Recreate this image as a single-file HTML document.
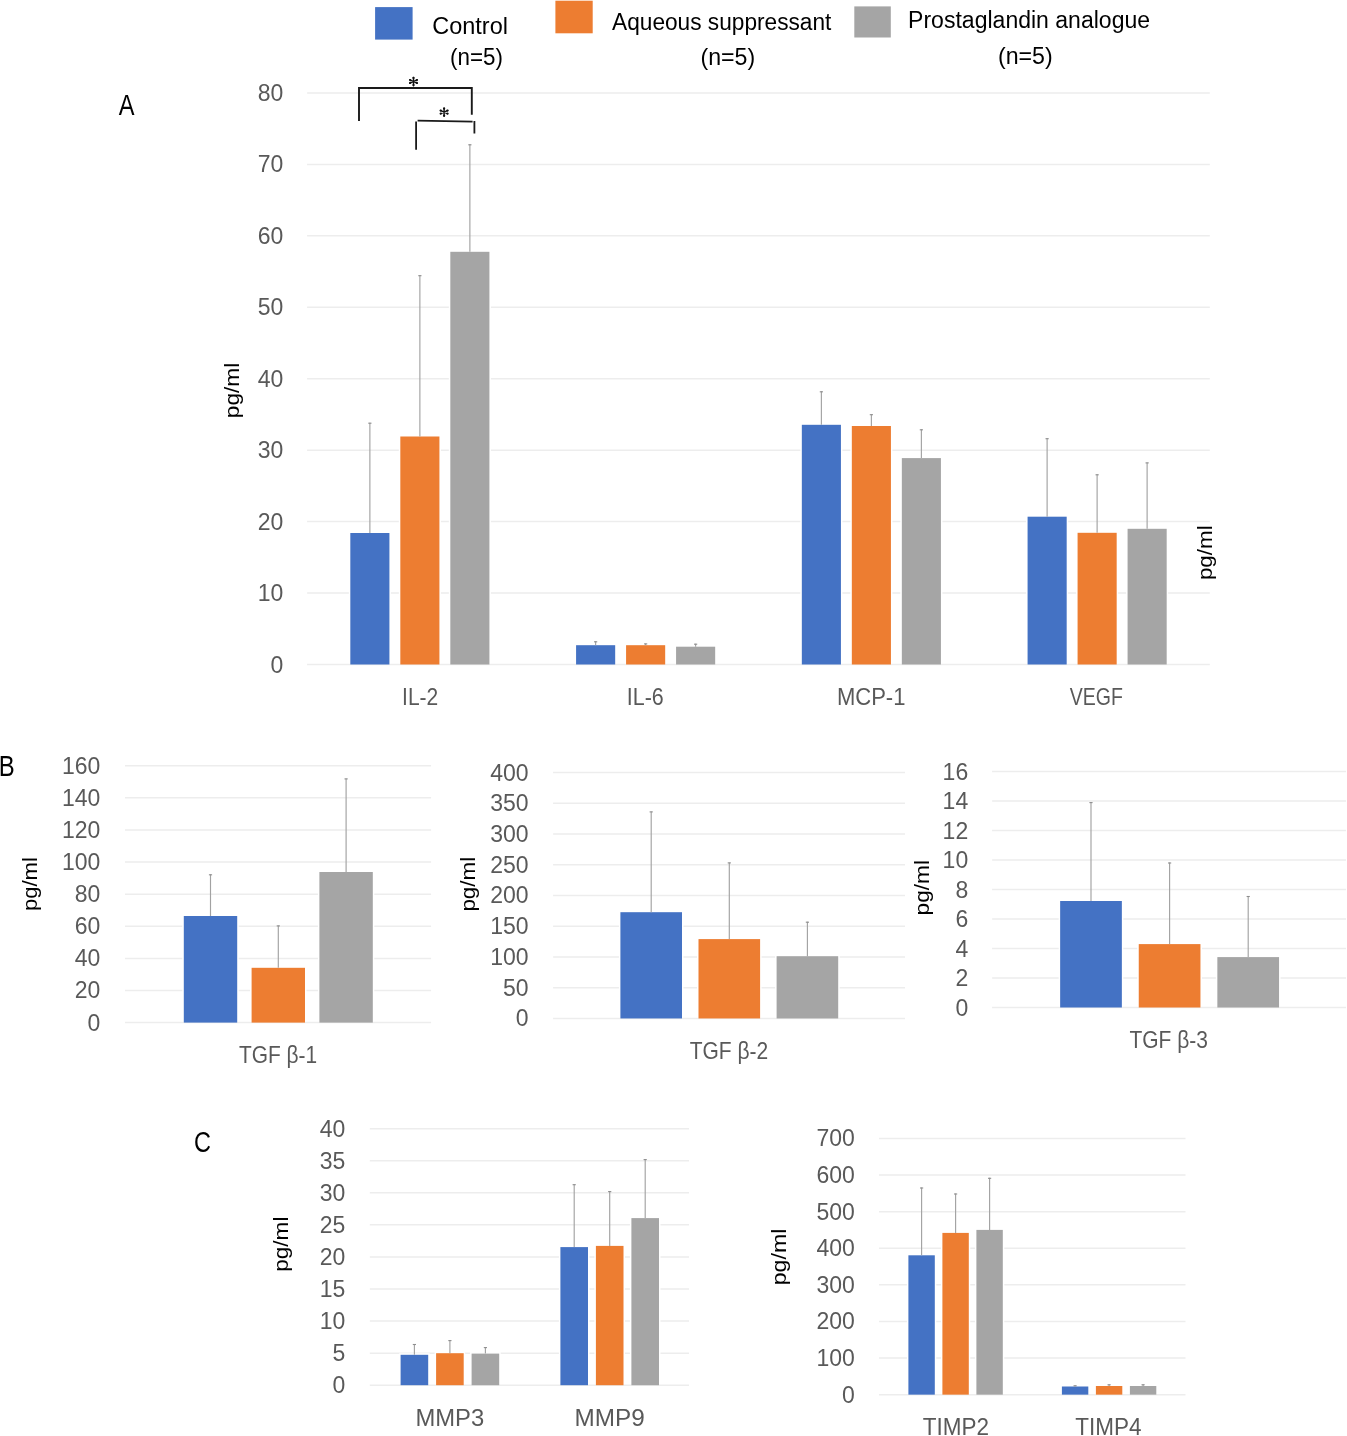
<!DOCTYPE html>
<html><head><meta charset="utf-8"><style>
html,body{margin:0;padding:0;background:#fff;}
body{width:1347px;height:1436px;overflow:hidden;}
svg{display:block;font-family:"Liberation Sans", sans-serif;will-change:transform;}
</style></head><body>
<svg width="1347" height="1436" viewBox="0 0 1347 1436">
<rect x="0" y="0" width="1347" height="1436" fill="#fff"/>
<line x1="307.1" y1="664.5" x2="1209.8" y2="664.5" stroke="#EDEDED" stroke-width="1.5"/>
<line x1="307.1" y1="593.06" x2="1209.8" y2="593.06" stroke="#EDEDED" stroke-width="1.5"/>
<line x1="307.1" y1="521.62" x2="1209.8" y2="521.62" stroke="#EDEDED" stroke-width="1.5"/>
<line x1="307.1" y1="450.18" x2="1209.8" y2="450.18" stroke="#EDEDED" stroke-width="1.5"/>
<line x1="307.1" y1="378.74" x2="1209.8" y2="378.74" stroke="#EDEDED" stroke-width="1.5"/>
<line x1="307.1" y1="307.3" x2="1209.8" y2="307.3" stroke="#EDEDED" stroke-width="1.5"/>
<line x1="307.1" y1="235.86" x2="1209.8" y2="235.86" stroke="#EDEDED" stroke-width="1.5"/>
<line x1="307.1" y1="164.42" x2="1209.8" y2="164.42" stroke="#EDEDED" stroke-width="1.5"/>
<line x1="307.1" y1="92.98" x2="1209.8" y2="92.98" stroke="#EDEDED" stroke-width="1.5"/>
<text x="283.3" y="672.5" font-size="23" fill="#595959" text-anchor="end">0</text>
<text x="283.3" y="601.06" font-size="23" fill="#595959" text-anchor="end">10</text>
<text x="283.3" y="529.62" font-size="23" fill="#595959" text-anchor="end">20</text>
<text x="283.3" y="458.18" font-size="23" fill="#595959" text-anchor="end">30</text>
<text x="283.3" y="386.74" font-size="23" fill="#595959" text-anchor="end">40</text>
<text x="283.3" y="315.3" font-size="23" fill="#595959" text-anchor="end">50</text>
<text x="283.3" y="243.86" font-size="23" fill="#595959" text-anchor="end">60</text>
<text x="283.3" y="172.42" font-size="23" fill="#595959" text-anchor="end">70</text>
<text x="283.3" y="100.98" font-size="23" fill="#595959" text-anchor="end">80</text>
<rect x="348.82" y="531.5" width="42.1" height="131.8" fill="#FFFFFF"/>
<rect x="398.82" y="435" width="42.1" height="228.3" fill="#FFFFFF"/>
<rect x="448.82" y="250.3" width="42.1" height="413" fill="#FFFFFF"/>
<rect x="574.58" y="643.7" width="42.1" height="19.6" fill="#FFFFFF"/>
<rect x="624.58" y="643.7" width="42.1" height="19.6" fill="#FFFFFF"/>
<rect x="674.58" y="645.2" width="42.1" height="18.1" fill="#FFFFFF"/>
<rect x="800.33" y="423.3" width="42.1" height="240" fill="#FFFFFF"/>
<rect x="850.33" y="424.5" width="42.1" height="238.8" fill="#FFFFFF"/>
<rect x="900.33" y="456.6" width="42.1" height="206.7" fill="#FFFFFF"/>
<rect x="1026.08" y="515.2" width="42.1" height="148.1" fill="#FFFFFF"/>
<rect x="1076.08" y="531.3" width="42.1" height="132" fill="#FFFFFF"/>
<rect x="1126.08" y="527.3" width="42.1" height="136" fill="#FFFFFF"/>
<rect x="350.32" y="533" width="39.1" height="131.5" fill="#4472C4"/>
<rect x="400.32" y="436.5" width="39.1" height="228" fill="#ED7D31"/>
<rect x="450.32" y="251.8" width="39.1" height="412.7" fill="#A5A5A5"/>
<rect x="576.08" y="645.2" width="39.1" height="19.3" fill="#4472C4"/>
<rect x="626.08" y="645.2" width="39.1" height="19.3" fill="#ED7D31"/>
<rect x="676.08" y="646.7" width="39.1" height="17.8" fill="#A5A5A5"/>
<rect x="801.83" y="424.8" width="39.1" height="239.7" fill="#4472C4"/>
<rect x="851.83" y="426" width="39.1" height="238.5" fill="#ED7D31"/>
<rect x="901.83" y="458.1" width="39.1" height="206.4" fill="#A5A5A5"/>
<rect x="1027.58" y="516.7" width="39.1" height="147.8" fill="#4472C4"/>
<rect x="1077.58" y="532.8" width="39.1" height="131.7" fill="#ED7D31"/>
<rect x="1127.58" y="528.8" width="39.1" height="135.7" fill="#A5A5A5"/>
<line x1="369.88" y1="422.7" x2="369.88" y2="533" stroke="#A2A2A2" stroke-width="1.15"/>
<line x1="368.27" y1="423.2" x2="371.48" y2="423.2" stroke="#8E8E8E" stroke-width="1.1"/>
<line x1="419.88" y1="275.2" x2="419.88" y2="436.5" stroke="#A2A2A2" stroke-width="1.15"/>
<line x1="418.27" y1="275.7" x2="421.48" y2="275.7" stroke="#8E8E8E" stroke-width="1.1"/>
<line x1="469.88" y1="144.3" x2="469.88" y2="251.8" stroke="#A2A2A2" stroke-width="1.15"/>
<line x1="468.27" y1="144.8" x2="471.48" y2="144.8" stroke="#8E8E8E" stroke-width="1.1"/>
<line x1="595.62" y1="641.3" x2="595.62" y2="645.2" stroke="#A2A2A2" stroke-width="1.15"/>
<line x1="594.02" y1="641.8" x2="597.23" y2="641.8" stroke="#8E8E8E" stroke-width="1.1"/>
<line x1="645.62" y1="643.4" x2="645.62" y2="645.2" stroke="#A2A2A2" stroke-width="1.15"/>
<line x1="644.02" y1="643.9" x2="647.23" y2="643.9" stroke="#8E8E8E" stroke-width="1.1"/>
<line x1="695.62" y1="643.7" x2="695.62" y2="646.7" stroke="#A2A2A2" stroke-width="1.15"/>
<line x1="694.02" y1="644.2" x2="697.23" y2="644.2" stroke="#8E8E8E" stroke-width="1.1"/>
<line x1="821.38" y1="391.3" x2="821.38" y2="424.8" stroke="#A2A2A2" stroke-width="1.15"/>
<line x1="819.77" y1="391.8" x2="822.98" y2="391.8" stroke="#8E8E8E" stroke-width="1.1"/>
<line x1="871.38" y1="414.2" x2="871.38" y2="426" stroke="#A2A2A2" stroke-width="1.15"/>
<line x1="869.77" y1="414.7" x2="872.98" y2="414.7" stroke="#8E8E8E" stroke-width="1.1"/>
<line x1="921.38" y1="429.3" x2="921.38" y2="458.1" stroke="#A2A2A2" stroke-width="1.15"/>
<line x1="919.77" y1="429.8" x2="922.98" y2="429.8" stroke="#8E8E8E" stroke-width="1.1"/>
<line x1="1047.12" y1="438.2" x2="1047.12" y2="516.7" stroke="#A2A2A2" stroke-width="1.15"/>
<line x1="1045.53" y1="438.7" x2="1048.72" y2="438.7" stroke="#8E8E8E" stroke-width="1.1"/>
<line x1="1097.12" y1="474.3" x2="1097.12" y2="532.8" stroke="#A2A2A2" stroke-width="1.15"/>
<line x1="1095.53" y1="474.8" x2="1098.72" y2="474.8" stroke="#8E8E8E" stroke-width="1.1"/>
<line x1="1147.12" y1="462.4" x2="1147.12" y2="528.8" stroke="#A2A2A2" stroke-width="1.15"/>
<line x1="1145.53" y1="462.9" x2="1148.72" y2="462.9" stroke="#8E8E8E" stroke-width="1.1"/>
<text x="420.18" y="705.2" font-size="23.2" fill="#595959" text-anchor="middle" textLength="36.17" lengthAdjust="spacingAndGlyphs">IL-2</text>
<text x="645.33" y="705.2" font-size="23.2" fill="#595959" text-anchor="middle" textLength="36.97" lengthAdjust="spacingAndGlyphs">IL-6</text>
<text x="871.17" y="705.2" font-size="23.2" fill="#595959" text-anchor="middle" textLength="68.56" lengthAdjust="spacingAndGlyphs">MCP-1</text>
<text x="1096.33" y="705.2" font-size="23.2" fill="#595959" text-anchor="middle" textLength="53.14" lengthAdjust="spacingAndGlyphs">VEGF</text>
<text transform="translate(238.5 390.5) rotate(-90)" x="0" y="0" font-size="20" fill="#000" text-anchor="middle" textLength="55.4" lengthAdjust="spacingAndGlyphs">pg/ml</text>
<text transform="translate(1211.5 552.7) rotate(-90)" x="0" y="0" font-size="20" fill="#000" text-anchor="middle" textLength="54.8" lengthAdjust="spacingAndGlyphs">pg/ml</text>
<text x="118.8" y="115.1" font-size="29" fill="#000" text-anchor="start" textLength="15.74" lengthAdjust="spacingAndGlyphs">A</text>
<path d="M359 121 L359 88 L471.8 88 L471.8 114.7" fill="none" stroke="#1A1A1A" stroke-width="1.9"/>
<path d="M416.1 149.8 L416.1 121.4 M417.6 120.6 L472.6 121.6 M474.4 120.9 L474.4 133.6" fill="none" stroke="#1A1A1A" stroke-width="1.8"/>
<path d="M413.5 77.35 L413.5 85.65 M409.71 79.81 L417.29 83.19 M417.29 79.81 L409.71 83.19" stroke="#111" stroke-width="1.45" stroke-linecap="round" fill="none"/><circle cx="413.5" cy="77.93" r="1.15" fill="#111"/><circle cx="413.5" cy="85.07" r="1.15" fill="#111"/><circle cx="410.24" cy="80.05" r="1.15" fill="#111"/><circle cx="416.76" cy="82.95" r="1.15" fill="#111"/><circle cx="416.76" cy="80.05" r="1.15" fill="#111"/><circle cx="410.24" cy="82.95" r="1.15" fill="#111"/>
<path d="M444.1 107.95 L444.1 116.25 M440.31 110.41 L447.89 113.79 M447.89 110.41 L440.31 113.79" stroke="#111" stroke-width="1.45" stroke-linecap="round" fill="none"/><circle cx="444.1" cy="108.53" r="1.15" fill="#111"/><circle cx="444.1" cy="115.67" r="1.15" fill="#111"/><circle cx="440.84" cy="110.65" r="1.15" fill="#111"/><circle cx="447.36" cy="113.55" r="1.15" fill="#111"/><circle cx="447.36" cy="110.65" r="1.15" fill="#111"/><circle cx="440.84" cy="113.55" r="1.15" fill="#111"/>
<line x1="125" y1="1022.6" x2="431.1" y2="1022.6" stroke="#EDEDED" stroke-width="1.5"/>
<line x1="125" y1="990.49" x2="431.1" y2="990.49" stroke="#EDEDED" stroke-width="1.5"/>
<line x1="125" y1="958.38" x2="431.1" y2="958.38" stroke="#EDEDED" stroke-width="1.5"/>
<line x1="125" y1="926.27" x2="431.1" y2="926.27" stroke="#EDEDED" stroke-width="1.5"/>
<line x1="125" y1="894.16" x2="431.1" y2="894.16" stroke="#EDEDED" stroke-width="1.5"/>
<line x1="125" y1="862.05" x2="431.1" y2="862.05" stroke="#EDEDED" stroke-width="1.5"/>
<line x1="125" y1="829.94" x2="431.1" y2="829.94" stroke="#EDEDED" stroke-width="1.5"/>
<line x1="125" y1="797.83" x2="431.1" y2="797.83" stroke="#EDEDED" stroke-width="1.5"/>
<line x1="125" y1="765.72" x2="431.1" y2="765.72" stroke="#EDEDED" stroke-width="1.5"/>
<text x="100.4" y="1030.6" font-size="23" fill="#595959" text-anchor="end">0</text>
<text x="100.4" y="998.49" font-size="23" fill="#595959" text-anchor="end">20</text>
<text x="100.4" y="966.38" font-size="23" fill="#595959" text-anchor="end">40</text>
<text x="100.4" y="934.27" font-size="23" fill="#595959" text-anchor="end">60</text>
<text x="100.4" y="902.16" font-size="23" fill="#595959" text-anchor="end">80</text>
<text x="100.4" y="870.05" font-size="23" fill="#595959" text-anchor="end">100</text>
<text x="100.4" y="837.94" font-size="23" fill="#595959" text-anchor="end">120</text>
<text x="100.4" y="805.83" font-size="23" fill="#595959" text-anchor="end">140</text>
<text x="100.4" y="773.72" font-size="23" fill="#595959" text-anchor="end">160</text>
<rect x="182.3" y="914.5" width="56.4" height="106.9" fill="#FFFFFF"/>
<rect x="250.1" y="966.3" width="56.4" height="55.1" fill="#FFFFFF"/>
<rect x="317.9" y="870.5" width="56.4" height="150.9" fill="#FFFFFF"/>
<rect x="183.8" y="916" width="53.4" height="106.6" fill="#4472C4"/>
<rect x="251.6" y="967.8" width="53.4" height="54.8" fill="#ED7D31"/>
<rect x="319.4" y="872" width="53.4" height="150.6" fill="#A5A5A5"/>
<line x1="210.5" y1="874.3" x2="210.5" y2="916" stroke="#A2A2A2" stroke-width="1.15"/>
<line x1="208.9" y1="874.8" x2="212.1" y2="874.8" stroke="#8E8E8E" stroke-width="1.1"/>
<line x1="278.3" y1="925.4" x2="278.3" y2="967.8" stroke="#A2A2A2" stroke-width="1.15"/>
<line x1="276.7" y1="925.9" x2="279.9" y2="925.9" stroke="#8E8E8E" stroke-width="1.1"/>
<line x1="346.1" y1="778.4" x2="346.1" y2="872" stroke="#A2A2A2" stroke-width="1.15"/>
<line x1="344.5" y1="778.9" x2="347.7" y2="778.9" stroke="#8E8E8E" stroke-width="1.1"/>
<text x="278.1" y="1063.1" font-size="23.2" fill="#595959" text-anchor="middle" textLength="78.17" lengthAdjust="spacingAndGlyphs">TGF β-1</text>
<text transform="translate(36.5 884.1) rotate(-90)" x="0" y="0" font-size="20" fill="#000" text-anchor="middle" textLength="54" lengthAdjust="spacingAndGlyphs">pg/ml</text>
<text x="-1.3" y="775.6" font-size="29" fill="#000" text-anchor="start" textLength="15.94" lengthAdjust="spacingAndGlyphs">B</text>
<line x1="553.1" y1="1018.45" x2="905" y2="1018.45" stroke="#EDEDED" stroke-width="1.5"/>
<line x1="553.1" y1="987.71" x2="905" y2="987.71" stroke="#EDEDED" stroke-width="1.5"/>
<line x1="553.1" y1="956.97" x2="905" y2="956.97" stroke="#EDEDED" stroke-width="1.5"/>
<line x1="553.1" y1="926.23" x2="905" y2="926.23" stroke="#EDEDED" stroke-width="1.5"/>
<line x1="553.1" y1="895.49" x2="905" y2="895.49" stroke="#EDEDED" stroke-width="1.5"/>
<line x1="553.1" y1="864.75" x2="905" y2="864.75" stroke="#EDEDED" stroke-width="1.5"/>
<line x1="553.1" y1="834.01" x2="905" y2="834.01" stroke="#EDEDED" stroke-width="1.5"/>
<line x1="553.1" y1="803.27" x2="905" y2="803.27" stroke="#EDEDED" stroke-width="1.5"/>
<line x1="553.1" y1="772.53" x2="905" y2="772.53" stroke="#EDEDED" stroke-width="1.5"/>
<text x="528.6" y="1026.45" font-size="23" fill="#595959" text-anchor="end">0</text>
<text x="528.6" y="995.71" font-size="23" fill="#595959" text-anchor="end">50</text>
<text x="528.6" y="964.97" font-size="23" fill="#595959" text-anchor="end">100</text>
<text x="528.6" y="934.23" font-size="23" fill="#595959" text-anchor="end">150</text>
<text x="528.6" y="903.49" font-size="23" fill="#595959" text-anchor="end">200</text>
<text x="528.6" y="872.75" font-size="23" fill="#595959" text-anchor="end">250</text>
<text x="528.6" y="842.01" font-size="23" fill="#595959" text-anchor="end">300</text>
<text x="528.6" y="811.27" font-size="23" fill="#595959" text-anchor="end">350</text>
<text x="528.6" y="780.53" font-size="23" fill="#595959" text-anchor="end">400</text>
<rect x="618.9" y="910.7" width="64.6" height="106.55" fill="#FFFFFF"/>
<rect x="697" y="937.6" width="64.6" height="79.65" fill="#FFFFFF"/>
<rect x="775.1" y="954.7" width="64.6" height="62.55" fill="#FFFFFF"/>
<rect x="620.4" y="912.2" width="61.6" height="106.25" fill="#4472C4"/>
<rect x="698.5" y="939.1" width="61.6" height="79.35" fill="#ED7D31"/>
<rect x="776.6" y="956.2" width="61.6" height="62.25" fill="#A5A5A5"/>
<line x1="651.2" y1="811.4" x2="651.2" y2="912.2" stroke="#A2A2A2" stroke-width="1.15"/>
<line x1="649.6" y1="811.9" x2="652.8" y2="811.9" stroke="#8E8E8E" stroke-width="1.1"/>
<line x1="729.3" y1="862.4" x2="729.3" y2="939.1" stroke="#A2A2A2" stroke-width="1.15"/>
<line x1="727.7" y1="862.9" x2="730.9" y2="862.9" stroke="#8E8E8E" stroke-width="1.1"/>
<line x1="807.4" y1="921.7" x2="807.4" y2="956.2" stroke="#A2A2A2" stroke-width="1.15"/>
<line x1="805.8" y1="922.2" x2="809" y2="922.2" stroke="#8E8E8E" stroke-width="1.1"/>
<text x="729" y="1058.8" font-size="23.2" fill="#595959" text-anchor="middle" textLength="78.57" lengthAdjust="spacingAndGlyphs">TGF β-2</text>
<text transform="translate(474.9 884.2) rotate(-90)" x="0" y="0" font-size="20" fill="#000" text-anchor="middle" textLength="54.8" lengthAdjust="spacingAndGlyphs">pg/ml</text>
<line x1="992.1" y1="1007.5" x2="1346" y2="1007.5" stroke="#EDEDED" stroke-width="1.5"/>
<line x1="992.1" y1="978" x2="1346" y2="978" stroke="#EDEDED" stroke-width="1.5"/>
<line x1="992.1" y1="948.5" x2="1346" y2="948.5" stroke="#EDEDED" stroke-width="1.5"/>
<line x1="992.1" y1="919" x2="1346" y2="919" stroke="#EDEDED" stroke-width="1.5"/>
<line x1="992.1" y1="889.5" x2="1346" y2="889.5" stroke="#EDEDED" stroke-width="1.5"/>
<line x1="992.1" y1="860" x2="1346" y2="860" stroke="#EDEDED" stroke-width="1.5"/>
<line x1="992.1" y1="830.5" x2="1346" y2="830.5" stroke="#EDEDED" stroke-width="1.5"/>
<line x1="992.1" y1="801" x2="1346" y2="801" stroke="#EDEDED" stroke-width="1.5"/>
<line x1="992.1" y1="771.5" x2="1346" y2="771.5" stroke="#EDEDED" stroke-width="1.5"/>
<text x="968.2" y="1015.5" font-size="23" fill="#595959" text-anchor="end">0</text>
<text x="968.2" y="986" font-size="23" fill="#595959" text-anchor="end">2</text>
<text x="968.2" y="956.5" font-size="23" fill="#595959" text-anchor="end">4</text>
<text x="968.2" y="927" font-size="23" fill="#595959" text-anchor="end">6</text>
<text x="968.2" y="897.5" font-size="23" fill="#595959" text-anchor="end">8</text>
<text x="968.2" y="868" font-size="23" fill="#595959" text-anchor="end">10</text>
<text x="968.2" y="838.5" font-size="23" fill="#595959" text-anchor="end">12</text>
<text x="968.2" y="809" font-size="23" fill="#595959" text-anchor="end">14</text>
<text x="968.2" y="779.5" font-size="23" fill="#595959" text-anchor="end">16</text>
<rect x="1058.65" y="899.5" width="64.7" height="106.8" fill="#FFFFFF"/>
<rect x="1137.25" y="942.6" width="64.7" height="63.7" fill="#FFFFFF"/>
<rect x="1215.85" y="955.6" width="64.7" height="50.7" fill="#FFFFFF"/>
<rect x="1060.15" y="901" width="61.7" height="106.5" fill="#4472C4"/>
<rect x="1138.75" y="944.1" width="61.7" height="63.4" fill="#ED7D31"/>
<rect x="1217.35" y="957.1" width="61.7" height="50.4" fill="#A5A5A5"/>
<line x1="1091" y1="802.1" x2="1091" y2="901" stroke="#A2A2A2" stroke-width="1.15"/>
<line x1="1089.4" y1="802.6" x2="1092.6" y2="802.6" stroke="#8E8E8E" stroke-width="1.1"/>
<line x1="1169.6" y1="862.5" x2="1169.6" y2="944.1" stroke="#A2A2A2" stroke-width="1.15"/>
<line x1="1168" y1="863" x2="1171.2" y2="863" stroke="#8E8E8E" stroke-width="1.1"/>
<line x1="1248.2" y1="896" x2="1248.2" y2="957.1" stroke="#A2A2A2" stroke-width="1.15"/>
<line x1="1246.6" y1="896.5" x2="1249.8" y2="896.5" stroke="#8E8E8E" stroke-width="1.1"/>
<text x="1168.7" y="1047.8" font-size="23.2" fill="#595959" text-anchor="middle" textLength="78.57" lengthAdjust="spacingAndGlyphs">TGF β-3</text>
<text transform="translate(928.6 887.7) rotate(-90)" x="0" y="0" font-size="20" fill="#000" text-anchor="middle" textLength="55.4" lengthAdjust="spacingAndGlyphs">pg/ml</text>
<line x1="369.8" y1="1385.2" x2="689" y2="1385.2" stroke="#EDEDED" stroke-width="1.5"/>
<line x1="369.8" y1="1353.13" x2="689" y2="1353.13" stroke="#EDEDED" stroke-width="1.5"/>
<line x1="369.8" y1="1321.06" x2="689" y2="1321.06" stroke="#EDEDED" stroke-width="1.5"/>
<line x1="369.8" y1="1288.99" x2="689" y2="1288.99" stroke="#EDEDED" stroke-width="1.5"/>
<line x1="369.8" y1="1256.92" x2="689" y2="1256.92" stroke="#EDEDED" stroke-width="1.5"/>
<line x1="369.8" y1="1224.85" x2="689" y2="1224.85" stroke="#EDEDED" stroke-width="1.5"/>
<line x1="369.8" y1="1192.78" x2="689" y2="1192.78" stroke="#EDEDED" stroke-width="1.5"/>
<line x1="369.8" y1="1160.71" x2="689" y2="1160.71" stroke="#EDEDED" stroke-width="1.5"/>
<line x1="369.8" y1="1128.64" x2="689" y2="1128.64" stroke="#EDEDED" stroke-width="1.5"/>
<text x="345.4" y="1393.2" font-size="23" fill="#595959" text-anchor="end">0</text>
<text x="345.4" y="1361.13" font-size="23" fill="#595959" text-anchor="end">5</text>
<text x="345.4" y="1329.06" font-size="23" fill="#595959" text-anchor="end">10</text>
<text x="345.4" y="1296.99" font-size="23" fill="#595959" text-anchor="end">15</text>
<text x="345.4" y="1264.92" font-size="23" fill="#595959" text-anchor="end">20</text>
<text x="345.4" y="1232.85" font-size="23" fill="#595959" text-anchor="end">25</text>
<text x="345.4" y="1200.78" font-size="23" fill="#595959" text-anchor="end">30</text>
<text x="345.4" y="1168.71" font-size="23" fill="#595959" text-anchor="end">35</text>
<text x="345.4" y="1136.64" font-size="23" fill="#595959" text-anchor="end">40</text>
<rect x="399.1" y="1353.3" width="30.6" height="30.7" fill="#FFFFFF"/>
<rect x="434.6" y="1351.7" width="30.6" height="32.3" fill="#FFFFFF"/>
<rect x="470.1" y="1352.1" width="30.6" height="31.9" fill="#FFFFFF"/>
<rect x="558.9" y="1245.6" width="30.6" height="138.4" fill="#FFFFFF"/>
<rect x="594.4" y="1244.4" width="30.6" height="139.6" fill="#FFFFFF"/>
<rect x="629.9" y="1216.6" width="30.6" height="167.4" fill="#FFFFFF"/>
<rect x="400.6" y="1354.8" width="27.6" height="30.4" fill="#4472C4"/>
<rect x="436.1" y="1353.2" width="27.6" height="32" fill="#ED7D31"/>
<rect x="471.6" y="1353.6" width="27.6" height="31.6" fill="#A5A5A5"/>
<rect x="560.4" y="1247.1" width="27.6" height="138.1" fill="#4472C4"/>
<rect x="595.9" y="1245.9" width="27.6" height="139.3" fill="#ED7D31"/>
<rect x="631.4" y="1218.1" width="27.6" height="167.1" fill="#A5A5A5"/>
<line x1="414.4" y1="1344" x2="414.4" y2="1354.8" stroke="#A2A2A2" stroke-width="1.15"/>
<line x1="412.8" y1="1344.5" x2="416" y2="1344.5" stroke="#8E8E8E" stroke-width="1.1"/>
<line x1="449.9" y1="1340.1" x2="449.9" y2="1353.2" stroke="#A2A2A2" stroke-width="1.15"/>
<line x1="448.3" y1="1340.6" x2="451.5" y2="1340.6" stroke="#8E8E8E" stroke-width="1.1"/>
<line x1="485.4" y1="1347.1" x2="485.4" y2="1353.6" stroke="#A2A2A2" stroke-width="1.15"/>
<line x1="483.8" y1="1347.6" x2="487" y2="1347.6" stroke="#8E8E8E" stroke-width="1.1"/>
<line x1="574.2" y1="1184.2" x2="574.2" y2="1247.1" stroke="#A2A2A2" stroke-width="1.15"/>
<line x1="572.6" y1="1184.7" x2="575.8" y2="1184.7" stroke="#8E8E8E" stroke-width="1.1"/>
<line x1="609.7" y1="1191.1" x2="609.7" y2="1245.9" stroke="#A2A2A2" stroke-width="1.15"/>
<line x1="608.1" y1="1191.6" x2="611.3" y2="1191.6" stroke="#8E8E8E" stroke-width="1.1"/>
<line x1="645.2" y1="1159.1" x2="645.2" y2="1218.1" stroke="#A2A2A2" stroke-width="1.15"/>
<line x1="643.6" y1="1159.6" x2="646.8" y2="1159.6" stroke="#8E8E8E" stroke-width="1.1"/>
<text x="449.8" y="1426.2" font-size="23.2" fill="#595959" text-anchor="middle" textLength="68.8" lengthAdjust="spacingAndGlyphs">MMP3</text>
<text x="609.7" y="1426.2" font-size="23.2" fill="#595959" text-anchor="middle" textLength="70.2" lengthAdjust="spacingAndGlyphs">MMP9</text>
<text transform="translate(287.5 1244.2) rotate(-90)" x="0" y="0" font-size="20" fill="#000" text-anchor="middle" textLength="55.2" lengthAdjust="spacingAndGlyphs">pg/ml</text>
<text x="194.1" y="1152.1" font-size="29" fill="#000" text-anchor="start" textLength="16.95" lengthAdjust="spacingAndGlyphs">C</text>
<line x1="879" y1="1394.65" x2="1185.5" y2="1394.65" stroke="#EDEDED" stroke-width="1.5"/>
<line x1="879" y1="1358.05" x2="1185.5" y2="1358.05" stroke="#EDEDED" stroke-width="1.5"/>
<line x1="879" y1="1321.45" x2="1185.5" y2="1321.45" stroke="#EDEDED" stroke-width="1.5"/>
<line x1="879" y1="1284.85" x2="1185.5" y2="1284.85" stroke="#EDEDED" stroke-width="1.5"/>
<line x1="879" y1="1248.25" x2="1185.5" y2="1248.25" stroke="#EDEDED" stroke-width="1.5"/>
<line x1="879" y1="1211.65" x2="1185.5" y2="1211.65" stroke="#EDEDED" stroke-width="1.5"/>
<line x1="879" y1="1175.05" x2="1185.5" y2="1175.05" stroke="#EDEDED" stroke-width="1.5"/>
<line x1="879" y1="1138.45" x2="1185.5" y2="1138.45" stroke="#EDEDED" stroke-width="1.5"/>
<text x="854.8" y="1402.65" font-size="23" fill="#595959" text-anchor="end">0</text>
<text x="854.8" y="1366.05" font-size="23" fill="#595959" text-anchor="end">100</text>
<text x="854.8" y="1329.45" font-size="23" fill="#595959" text-anchor="end">200</text>
<text x="854.8" y="1292.85" font-size="23" fill="#595959" text-anchor="end">300</text>
<text x="854.8" y="1256.25" font-size="23" fill="#595959" text-anchor="end">400</text>
<text x="854.8" y="1219.65" font-size="23" fill="#595959" text-anchor="end">500</text>
<text x="854.8" y="1183.05" font-size="23" fill="#595959" text-anchor="end">600</text>
<text x="854.8" y="1146.45" font-size="23" fill="#595959" text-anchor="end">700</text>
<rect x="906.9" y="1253.8" width="29.4" height="139.65" fill="#FFFFFF"/>
<rect x="940.9" y="1231.4" width="29.4" height="162.05" fill="#FFFFFF"/>
<rect x="974.9" y="1228.4" width="29.4" height="165.05" fill="#FFFFFF"/>
<rect x="1060.4" y="1385" width="29.4" height="8.45" fill="#FFFFFF"/>
<rect x="1094.4" y="1384.5" width="29.4" height="8.95" fill="#FFFFFF"/>
<rect x="1128.4" y="1384.5" width="29.4" height="8.95" fill="#FFFFFF"/>
<rect x="908.4" y="1255.3" width="26.4" height="139.35" fill="#4472C4"/>
<rect x="942.4" y="1232.9" width="26.4" height="161.75" fill="#ED7D31"/>
<rect x="976.4" y="1229.9" width="26.4" height="164.75" fill="#A5A5A5"/>
<rect x="1061.9" y="1386.5" width="26.4" height="8.15" fill="#4472C4"/>
<rect x="1095.9" y="1386" width="26.4" height="8.65" fill="#ED7D31"/>
<rect x="1129.9" y="1386" width="26.4" height="8.65" fill="#A5A5A5"/>
<line x1="921.6" y1="1187.5" x2="921.6" y2="1255.3" stroke="#A2A2A2" stroke-width="1.15"/>
<line x1="920" y1="1188" x2="923.2" y2="1188" stroke="#8E8E8E" stroke-width="1.1"/>
<line x1="955.6" y1="1193.5" x2="955.6" y2="1232.9" stroke="#A2A2A2" stroke-width="1.15"/>
<line x1="954" y1="1194" x2="957.2" y2="1194" stroke="#8E8E8E" stroke-width="1.1"/>
<line x1="989.6" y1="1177.8" x2="989.6" y2="1229.9" stroke="#A2A2A2" stroke-width="1.15"/>
<line x1="988" y1="1178.3" x2="991.2" y2="1178.3" stroke="#8E8E8E" stroke-width="1.1"/>
<line x1="1075.1" y1="1385.3" x2="1075.1" y2="1386.5" stroke="#A2A2A2" stroke-width="1.15"/>
<line x1="1073.5" y1="1385.8" x2="1076.7" y2="1385.8" stroke="#8E8E8E" stroke-width="1.1"/>
<line x1="1109.1" y1="1384.3" x2="1109.1" y2="1386" stroke="#A2A2A2" stroke-width="1.15"/>
<line x1="1107.5" y1="1384.8" x2="1110.7" y2="1384.8" stroke="#8E8E8E" stroke-width="1.1"/>
<line x1="1143.1" y1="1384.3" x2="1143.1" y2="1386" stroke="#A2A2A2" stroke-width="1.15"/>
<line x1="1141.5" y1="1384.8" x2="1144.7" y2="1384.8" stroke="#8E8E8E" stroke-width="1.1"/>
<text x="955.9" y="1435.3" font-size="23.2" fill="#595959" text-anchor="middle" textLength="66.3" lengthAdjust="spacingAndGlyphs">TIMP2</text>
<text x="1108.5" y="1435.3" font-size="23.2" fill="#595959" text-anchor="middle" textLength="66.3" lengthAdjust="spacingAndGlyphs">TIMP4</text>
<text transform="translate(785.5 1257) rotate(-90)" x="0" y="0" font-size="20" fill="#000" text-anchor="middle" textLength="56.6" lengthAdjust="spacingAndGlyphs">pg/ml</text>
<rect x="375.1" y="7.1" width="37.5" height="32.5" fill="#4472C4"/>
<rect x="555.4" y="0.7" width="37.3" height="32.6" fill="#ED7D31"/>
<rect x="854.3" y="6.4" width="36.5" height="31.1" fill="#A5A5A5"/>
<text x="432.3" y="34.4" font-size="24" fill="#000" text-anchor="start" textLength="75.6" lengthAdjust="spacingAndGlyphs">Control</text>
<text x="450" y="64.8" font-size="24" fill="#000" text-anchor="start" textLength="52.9" lengthAdjust="spacingAndGlyphs">(n=5)</text>
<text x="612.1" y="29.7" font-size="23.3" fill="#000" text-anchor="start" textLength="219.2" lengthAdjust="spacingAndGlyphs">Aqueous suppressant</text>
<text x="700.5" y="64.8" font-size="24" fill="#000" text-anchor="start" textLength="54.7" lengthAdjust="spacingAndGlyphs">(n=5)</text>
<text x="908.1" y="28" font-size="23" fill="#000" text-anchor="start" textLength="242" lengthAdjust="spacingAndGlyphs">Prostaglandin analogue</text>
<text x="998" y="64.2" font-size="24" fill="#000" text-anchor="start" textLength="54.7" lengthAdjust="spacingAndGlyphs">(n=5)</text>
</svg>
</body></html>
